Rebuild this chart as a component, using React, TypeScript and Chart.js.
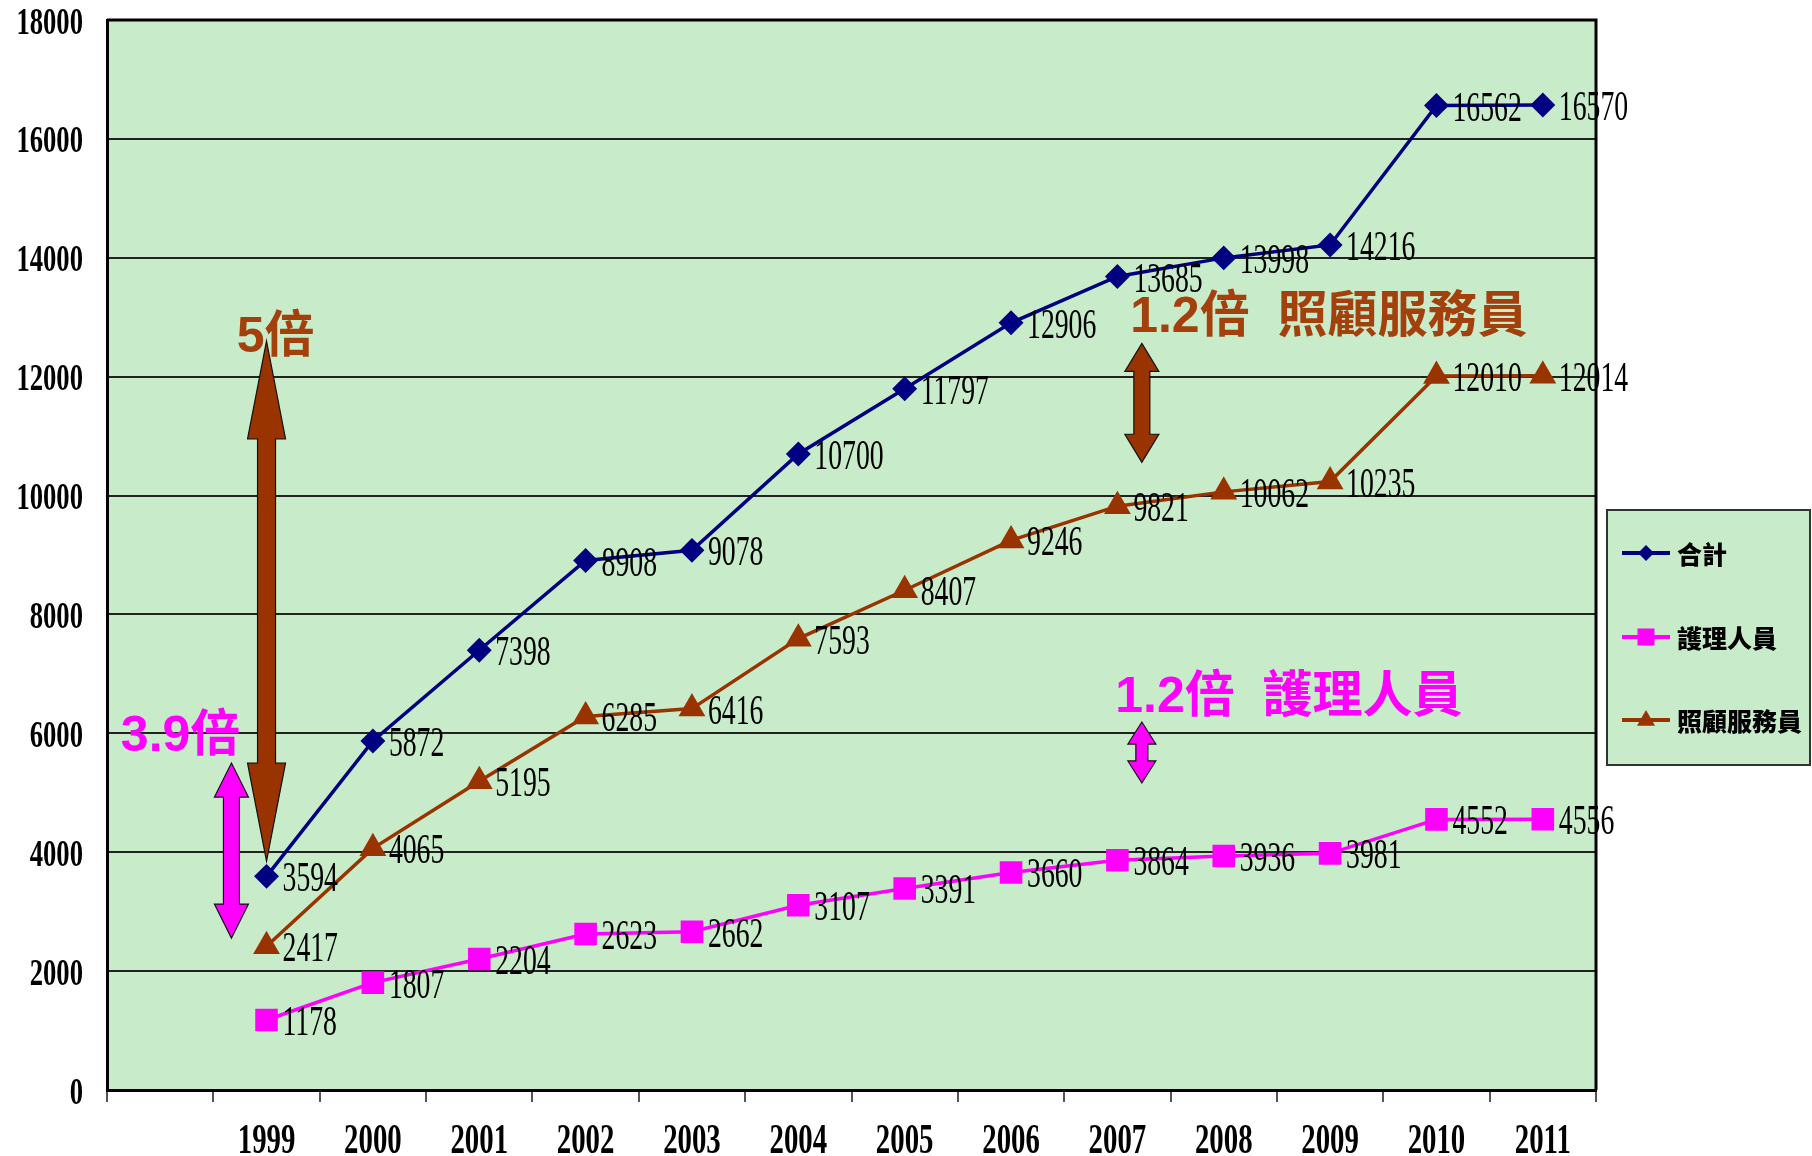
import React, { useEffect, useRef } from "react";
import { Chart, registerables } from "chart.js";

Chart.register(...registerables);

// ---------- data ----------
const categories = ["1999", "2000", "2001", "2002", "2003", "2004", "2005", "2006", "2007", "2008", "2009", "2010", "2011"];
const totalValues = [3594, 5872, 7398, 8908, 9078, 10700, 11797, 12906, 13685, 13998, 14216, 16562, 16570];
const nurseValues = [1178, 1807, 2204, 2623, 2662, 3107, 3391, 3660, 3864, 3936, 3981, 4552, 4556];
const careValues = [2417, 4065, 5195, 6285, 6416, 7593, 8407, 9246, 9821, 10062, 10235, 12010, 12014];
const seriesNames = ["合計", "護理人員", "照顧服務員"];
const yTickValues = [0, 2000, 4000, 6000, 8000, 10000, 12000, 14000, 16000, 18000];

// ---------- styles ----------
const NAVY = "#000080";
const MAGENTA = "#FF00FF";
const BROWN = "#993300";
const BROWN_TEXT = "#A3400C";
const PLOT_BG = "#C8ECCA";

// annotation placement (category index on the x axis, value on the y axis)
const annotationTexts = [
  { text: "5倍", idx: 0.72, val: 12650, color: BROWN_TEXT },
  { text: "3.9倍", idx: -0.37, val: 5940, color: MAGENTA },
  { text: "1.2倍  照顧服務員", idx: 9.12, val: 12985, color: BROWN_TEXT },
  { text: "1.2倍  護理人員", idx: 8.98, val: 6590, color: MAGENTA },
];
const annotationArrows = [
  { idx: 1, top: 12600, bottom: 3850, shaft: 18, head: 38, headLen: 98, color: BROWN },
  { idx: 0.67, top: 5500, bottom: 2555, shaft: 16, head: 34, headLen: 34, color: MAGENTA },
  { idx: 9.23, top: 12560, bottom: 10560, shaft: 16, head: 34, headLen: 28, color: BROWN },
  { idx: 9.23, top: 6190, bottom: 5165, shaft: 12, head: 28, headLen: 22, color: MAGENTA },
];

function condensedText(
  ctx: CanvasRenderingContext2D,
  text: string,
  x: number,
  y: number,
  font: string,
  sx: number,
  align: CanvasTextAlign,
  color: string
) {
  ctx.save();
  ctx.font = font;
  ctx.fillStyle = color;
  ctx.textAlign = align;
  ctx.textBaseline = "middle";
  ctx.translate(x, y);
  ctx.scale(sx, 1);
  ctx.fillText(text, 0, 0);
  ctx.restore();
}

function doubleArrow(
  ctx: CanvasRenderingContext2D,
  x: number,
  yT: number,
  yB: number,
  shaft: number,
  head: number,
  headLen: number,
  color: string
) {
  const s = shaft / 2;
  const h = head / 2;
  ctx.save();
  ctx.beginPath();
  ctx.moveTo(x, yT);
  ctx.lineTo(x + h, yT + headLen);
  ctx.lineTo(x + s, yT + headLen);
  ctx.lineTo(x + s, yB - headLen);
  ctx.lineTo(x + h, yB - headLen);
  ctx.lineTo(x, yB);
  ctx.lineTo(x - h, yB - headLen);
  ctx.lineTo(x - s, yB - headLen);
  ctx.lineTo(x - s, yT + headLen);
  ctx.lineTo(x - h, yT + headLen);
  ctx.closePath();
  ctx.fillStyle = color;
  ctx.fill();
  ctx.lineWidth = 1.2;
  ctx.strokeStyle = "#111";
  ctx.stroke();
  ctx.restore();
}

function marker(ctx: CanvasRenderingContext2D, style: string, x: number, y: number, r: number, color: string) {
  ctx.save();
  ctx.fillStyle = color;
  ctx.beginPath();
  if (style === "rectRot") {
    ctx.moveTo(x, y - r);
    ctx.lineTo(x + r, y);
    ctx.lineTo(x, y + r);
    ctx.lineTo(x - r, y);
  } else if (style === "rect") {
    ctx.rect(x - r, y - r, 2 * r, 2 * r);
  } else {
    ctx.moveTo(x, y - r);
    ctx.lineTo(x + r, y + r * 0.75);
    ctx.lineTo(x - r, y + r * 0.75);
  }
  ctx.closePath();
  ctx.fill();
  ctx.restore();
}

function xAt(chart: any, idx: number) {
  const xs = chart.scales.x;
  const p0 = xs.getPixelForValue(0);
  const p1 = xs.getPixelForValue(1);
  return p0 + idx * (p1 - p0);
}

const backgroundPlugin = {
  id: "plotBackground",
  beforeDraw(chart: any) {
    const { ctx, chartArea: a } = chart;
    ctx.save();
    ctx.fillStyle = "#ffffff";
    ctx.fillRect(0, 0, chart.width, chart.height);
    ctx.fillStyle = PLOT_BG;
    ctx.fillRect(a.left, a.top, a.right - a.left, a.bottom - a.top);
    ctx.restore();
  },
  beforeDatasetsDraw(chart: any) {
    const { ctx, chartArea: a } = chart;
    ctx.save();
    ctx.strokeStyle = "#000";
    ctx.lineWidth = 3;
    ctx.beginPath();
    ctx.moveTo(a.left, a.top);
    ctx.lineTo(a.right, a.top);
    ctx.lineTo(a.right, a.bottom);
    ctx.stroke();
    ctx.restore();
  },
};

const tickLabelPlugin = {
  id: "tickLabels",
  afterDraw(chart: any) {
    const { ctx } = chart;
    const xs = chart.scales.x;
    const ys = chart.scales.y;
    chart.data.labels.forEach((lab: string, i: number) => {
      if (!lab) return;
      condensedText(ctx, lab, xs.getPixelForValue(i), 1142, 'bold 43px "Liberation Serif", serif', 0.67, "center", "#000");
    });
    ys.ticks.forEach((t: any) => {
      condensedText(ctx, String(t.value), 83, ys.getPixelForValue(t.value) + 4, 'bold 37px "Liberation Serif", serif', 0.72, "right", "#000");
    });
  },
};

const annotationPlugin = {
  id: "annotations",
  afterDatasetsDraw(chart: any) {
    const { ctx } = chart;
    const ys = chart.scales.y;
    annotationTexts.forEach((t) => {
      ctx.save();
      ctx.font = 'bold 50px "Liberation Sans", "Noto Sans CJK TC", sans-serif';
      ctx.textAlign = "left";
      ctx.textBaseline = "middle";
      ctx.fillStyle = t.color;
      ctx.fillText(t.text, xAt(chart, t.idx), ys.getPixelForValue(t.val));
      ctx.restore();
    });
    annotationArrows.forEach((a) => {
      doubleArrow(ctx, xAt(chart, a.idx), ys.getPixelForValue(a.top), ys.getPixelForValue(a.bottom), a.shaft, a.head, a.headLen, a.color);
    });
  },
};

const dataLabelPlugin = {
  id: "dataLabels",
  afterDatasetsDraw(chart: any) {
    const { ctx } = chart;
    chart.data.datasets.forEach((ds: any, i: number) => {
      const meta = chart.getDatasetMeta(i);
      meta.data.forEach((pt: any, j: number) => {
        const v = ds.data[j];
        if (v === null || v === undefined) return;
        condensedText(ctx, String(v), pt.x + 16, pt.y + 4, '42px "Liberation Serif", serif', 0.66, "left", "#000");
      });
    });
  },
};

const legendPlugin = {
  id: "customLegend",
  afterDraw(chart: any) {
    const { ctx } = chart;
    const left = 1607;
    const top = 510;
    const w = 203;
    const h = 255;
    ctx.save();
    ctx.fillStyle = PLOT_BG;
    ctx.fillRect(left, top, w, h);
    ctx.strokeStyle = "#333";
    ctx.lineWidth = 2;
    ctx.strokeRect(left, top, w, h);
    const rows = [553, 637, 720];
    chart.data.datasets.forEach((ds: any, i: number) => {
      const y = rows[i];
      ctx.strokeStyle = ds.borderColor;
      ctx.lineWidth = 4;
      ctx.beginPath();
      ctx.moveTo(1622, y);
      ctx.lineTo(1670, y);
      ctx.stroke();
      const r = ds.pointStyle === "rectRot" ? 8 : ds.pointStyle === "rect" ? 8.5 : 9;
      marker(ctx, ds.pointStyle, 1646, ds.pointStyle === "triangle" ? y - 1 : y, r, ds.borderColor);
      ctx.font = '900 25px "Noto Sans CJK TC", sans-serif';
      ctx.fillStyle = "#000";
      ctx.textAlign = "left";
      ctx.textBaseline = "middle";
      ctx.fillText(ds.label, 1677, y + 1);
    });
    ctx.restore();
  },
};

export default function App() {
  const canvasRef = useRef<HTMLCanvasElement | null>(null);

  useEffect(() => {
    if (!canvasRef.current) return;
    const labels = ["", ...categories];
    const chart = new Chart(canvasRef.current, {
      type: "line",
      data: {
        labels,
        datasets: [
          {
            label: seriesNames[0],
            data: [null, ...totalValues],
            borderColor: NAVY,
            backgroundColor: NAVY,
            pointBackgroundColor: NAVY,
            pointBorderColor: NAVY,
            borderWidth: 3.5,
            pointStyle: "rectRot",
            pointRadius: 10,
            tension: 0,
          },
          {
            label: seriesNames[1],
            data: [null, ...nurseValues],
            borderColor: MAGENTA,
            backgroundColor: MAGENTA,
            pointBackgroundColor: MAGENTA,
            pointBorderColor: MAGENTA,
            borderWidth: 3.5,
            pointStyle: "rect",
            pointRadius: 13.5,
            tension: 0,
          },
          {
            label: seriesNames[2],
            data: [null, ...careValues],
            borderColor: BROWN,
            backgroundColor: BROWN,
            pointBackgroundColor: BROWN,
            pointBorderColor: BROWN,
            borderWidth: 3.5,
            pointStyle: "triangle",
            pointRadius: 12,
            tension: 0,
          },
        ] as any,
      },
      options: {
        animation: false,
        responsive: true,
        maintainAspectRatio: false,
        layout: { padding: { left: 0, top: 20, right: 216, bottom: 0 } },
        plugins: {
          legend: { display: false },
          tooltip: { enabled: false },
        },
        scales: {
          x: {
            type: "category",
            offset: true,
            grid: {
              offset: true,
              drawOnChartArea: false,
              drawTicks: true,
              tickLength: 12,
              color: "#555",
              lineWidth: 2,
            },
            border: { color: "#000", width: 3 },
            ticks: { color: "rgba(0,0,0,0)", font: { size: 10 }, autoSkip: false, maxRotation: 0 },
            afterFit: (s: any) => {
              s.height = 66;
            },
          },
          y: {
            min: 0,
            max: 18000,
            afterBuildTicks: (s: any) => {
              s.ticks = yTickValues.map((v) => ({ value: v }));
            },
            ticks: { color: "rgba(0,0,0,0)", font: { size: 10 } },
            grid: { color: "#222", lineWidth: 2, drawTicks: false },
            border: { color: "#000", width: 3 },
            afterFit: (s: any) => {
              s.width = 107;
            },
          },
        },
      } as any,
      plugins: [backgroundPlugin, annotationPlugin, dataLabelPlugin, tickLabelPlugin, legendPlugin],
    });
    return () => chart.destroy();
  }, []);

  return (
    <div style={{ position: "fixed", left: 0, top: 0, width: 1812, height: 1156, background: "#fff" }}>
      <canvas ref={canvasRef} />
    </div>
  );
}
